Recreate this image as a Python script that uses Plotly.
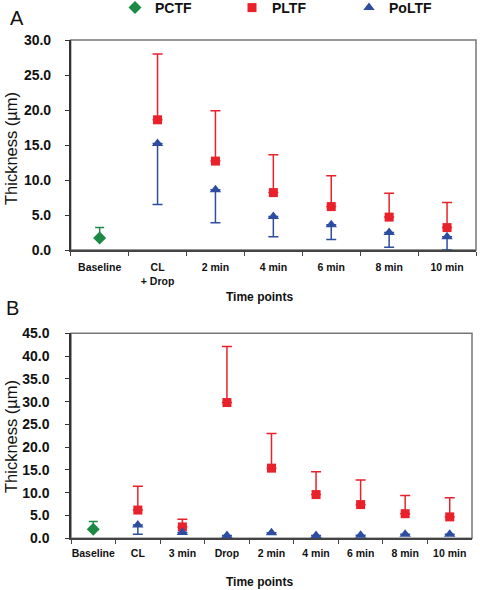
import plotly.graph_objects as go

# ---------------- Data ----------------
cats_a = ["Baseline", "CL<br>+ Drop", "2 min", "4 min", "6 min", "8 min", "10 min"]
pctf_a = [1.7]
pctf_a_err = [1.5]
pltf_a = [None, 18.6, 12.7, 8.2, 6.2, 4.7, 3.2]
pltf_a_err = [0, 9.4, 7.2, 5.4, 4.4, 3.4, 3.6]
poltf_a = [None, 15.2, 8.6, 4.8, 3.6, 2.5, 1.9]
poltf_a_err = [0, 8.7, 4.7, 2.9, 2.1, 2.1, 1.9]

cats_b = ["Baseline", "CL", "3 min", "Drop", "2 min", "4 min", "6 min", "8 min", "10 min"]
pctf_b = [2.0]
pctf_b_err = [1.7]
pltf_b = [None, 6.2, 2.5, 29.8, 15.4, 9.6, 7.4, 5.4, 4.7]
pltf_b_err = [0, 5.2, 1.7, 12.3, 7.6, 5.0, 5.4, 4.0, 4.2]
poltf_b = [None, 2.9, 1.3, 0.6, 1.2, 0.6, 0.65, 0.9, 0.9]
poltf_b_err = [0, 2.0, 0, 0, 0, 0, 0, 0, 0]

yticks_a = [0, 5, 10, 15, 20, 25, 30]
yticks_b = [0, 5, 10, 15, 20, 25, 30, 35, 40, 45]

GREEN = "#1c8a45"
RED = "#e8212b"
BLUE = "#2c4da0"
FONT = "Liberation Sans, Arial, sans-serif"

W, H = 480, 590
def px(x):
    return x / W
def py(y):
    return 1 - y / H

fig = go.Figure()

def add_series(cats, pctf, pctf_err, pltf, pltf_err, poltf, poltf_err, xa, ya, show):
    fig.add_trace(go.Scatter(
        x=cats[:1], y=pctf, mode="markers", name="PCTF", showlegend=show,
        marker=dict(symbol="diamond", size=10, color=GREEN),
        error_y=dict(type="data", symmetric=False, array=pctf_err, arrayminus=[0],
                     color=GREEN, thickness=1.5, width=4.5),
        xaxis=xa, yaxis=ya, cliponaxis=False))
    fig.add_trace(go.Scatter(
        x=cats, y=pltf, mode="markers", name="PLTF", showlegend=show,
        marker=dict(symbol="square", size=9, color=RED),
        error_y=dict(type="data", symmetric=False, array=pltf_err,
                     arrayminus=[0] * len(cats), color=RED, thickness=1.5, width=5),
        xaxis=xa, yaxis=ya, cliponaxis=False))
    fig.add_trace(go.Scatter(
        x=cats, y=poltf, mode="markers", name="PoLTF", showlegend=show,
        marker=dict(symbol="triangle-up", size=10, color=BLUE),
        error_y=dict(type="data", symmetric=False, array=[0] * len(cats),
                     arrayminus=poltf_err, color=BLUE, thickness=1.5, width=5),
        xaxis=xa, yaxis=ya, cliponaxis=False))

add_series(cats_a, pctf_a, pctf_a_err, pltf_a, pltf_a_err, poltf_a, poltf_a_err, "x", "y", True)
add_series(cats_b, pctf_b, pctf_b_err, pltf_b, pltf_b_err, poltf_b, poltf_b_err, "x2", "y2", False)

xcommon = dict(type="category", showline=True, linecolor="#444", linewidth=1.5,
               ticks="outside", ticklen=4, tickcolor="#444", tickson="boundaries",
               showgrid=False, zeroline=False, tickangle=0, automargin=False,
               tickfont=dict(family=FONT, size=10.5, color="#111", weight="bold"))
ycommon = dict(showline=True, linecolor="#333", linewidth=1.5, ticks="outside", ticklen=4,
               tickcolor="#333", showgrid=False, zeroline=False, tickformat=".1f",
               automargin=False,
               tickfont=dict(family=FONT, size=14, color="#111", weight="bold"))

fig.update_layout(
    width=W, height=H, margin=dict(l=0, r=0, t=0, b=0, autoexpand=False),
    plot_bgcolor="white", paper_bgcolor="white",
    font=dict(family=FONT),
    xaxis=dict(domain=[px(70.7), px(476)], anchor="y", categoryorder="array",
               categoryarray=cats_a, range=[-0.5, 6.5], ticklabelstandoff=7, **xcommon),
    yaxis=dict(domain=[py(250), py(40)], anchor="x", range=[0, 30], tickvals=yticks_a,
               ticklabelstandoff=11, **ycommon),
    xaxis2=dict(domain=[px(71), px(472)], anchor="y2", categoryorder="array",
                categoryarray=cats_b, range=[-0.5, 8.5], ticklabelstandoff=4, **xcommon),
    yaxis2=dict(domain=[py(538.3), py(333.3)], anchor="x2", range=[0, 45], tickvals=yticks_b,
                ticklabelstandoff=13, **ycommon),
    legend=dict(orientation="h", x=px(115), y=py(-8), xanchor="left", yanchor="top",
                entrywidth=72, entrywidthmode="pixels",
                font=dict(family=FONT, size=14, color="#111", weight="bold"),
                bgcolor="rgba(0,0,0,0)"),
    showlegend=True,
)

# gray box outline (top/right)
for xr, yr in (("x domain", "y domain"), ("x2 domain", "y2 domain")):
    fig.add_shape(type="rect", xref=xr, yref=yr, x0=0, x1=1, y0=0, y1=1,
                  line=dict(color="#777", width=1.5), layer="below")

def note(text, x, y, size, bold=False, angle=0):
    f = dict(family=FONT, size=size, color="#111")
    if bold:
        f["weight"] = "bold"
    return dict(text=text, x=px(x), y=py(y), xref="paper", yref="paper", showarrow=False,
                xanchor="center", yanchor="middle", textangle=angle, font=f)

ann = [note("A", 17, 18, 20), note("B", 12.5, 308, 20)]
for yc in (149, 437):
    ann.append(note("Thickness (µm)", 11, yc, 16.5, angle=-90))
for yc in (297, 581.7):
    ann.append(note("Time points", 259, yc, 12, bold=True))
fig.update_layout(annotations=ann)

fig.write_html("out.html", config={"displayModeBar": False},
               post_script="document.body.style.margin='0';")
